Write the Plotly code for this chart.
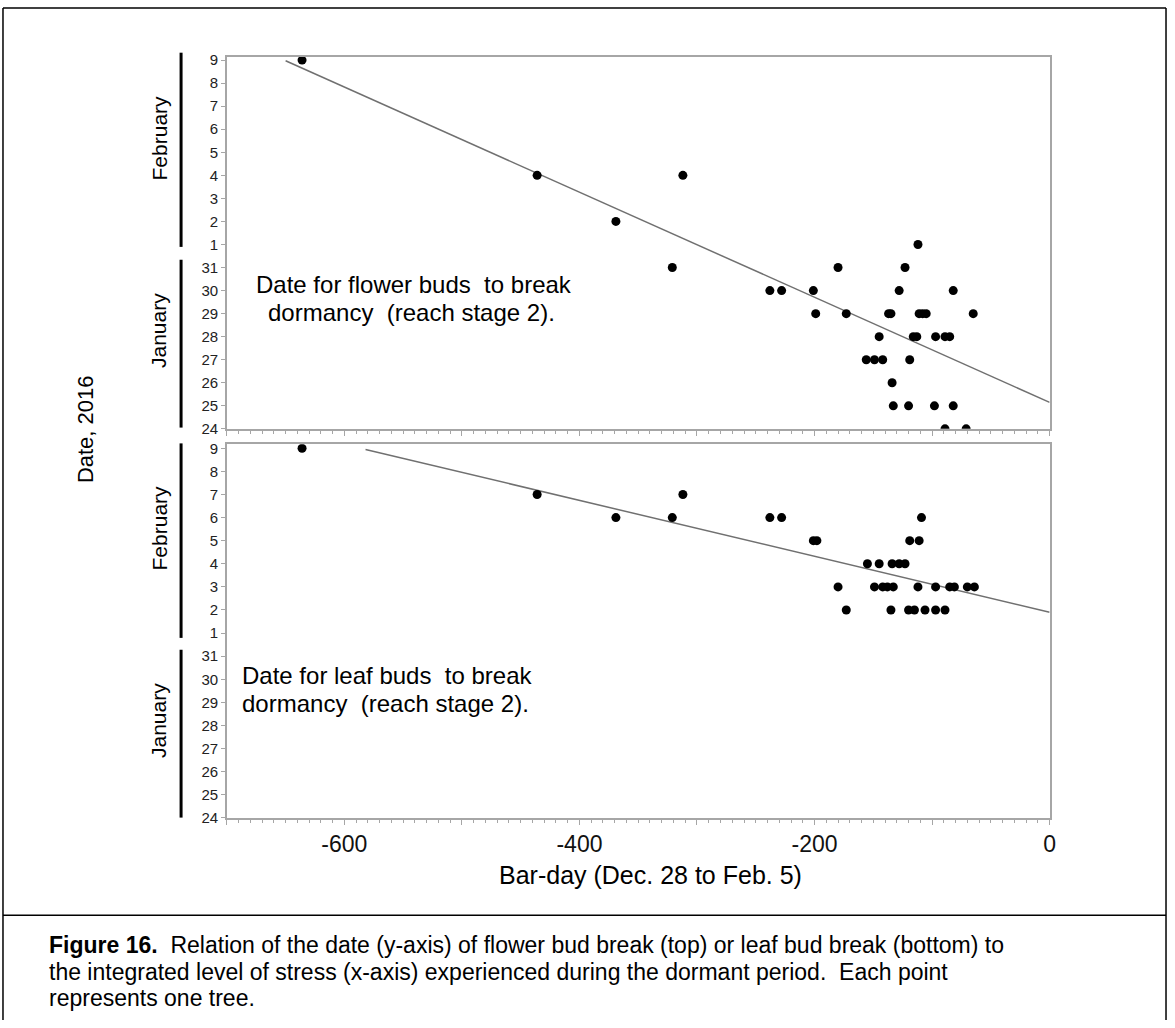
import plotly.graph_objects as go

# ---- data (x = bar-day, y = day number where Jan 24 = 24 ... Jan 31 = 31, Feb 1 = 32 ... Feb 9 = 40)
flower_x = [-636, -436, -312, -369, -112, -321, -180, -123,
            -238, -228, -201, -128, -82,
            -199, -173, -137, -135, -111, -108, -105, -65,
            -145, -116, -113, -97, -89, -85,
            -156, -149, -142, -119,
            -134,
            -133, -120, -98, -82,
            -89, -71]
flower_y = [40, 35, 35, 33, 32, 31, 31, 31,
            30, 30, 30, 30, 30,
            29, 29, 29, 29, 29, 29, 29, 29,
            28, 28, 28, 28, 28, 28,
            27, 27, 27, 27,
            26,
            25, 25, 25, 25,
            24, 24]

leaf_x = [-636, -436, -312, -369, -321, -238, -228, -109,
          -201, -198, -119, -111,
          -155, -145, -134, -128, -123,
          -180, -149, -142, -138, -133, -112, -97, -85, -81, -70, -64,
          -173, -135, -120, -115, -106, -97, -89]
leaf_y = [40, 38, 38, 37, 37, 37, 37, 37,
          36, 36, 36, 36,
          35, 35, 35, 35, 35,
          34, 34, 34, 34, 34, 34, 34, 34, 34, 34, 34,
          33, 33, 33, 33, 33, 33, 33]

flower_fit_x = [-650, 0]
flower_fit_y = [39.97, 25.15]
leaf_fit_x = [-582, 0]
leaf_fit_y = [39.95, 32.9]

y_tickvals = list(range(24, 41))
y_ticktext = ["24", "25", "26", "27", "28", "29", "30", "31",
              "1", "2", "3", "4", "5", "6", "7", "8", "9"]
x_tickvals = [-700, -600, -500, -400, -300, -200, -100, 0]
x_ticktext = ["", "-600", "", "-400", "", "-200", "", "0"]

caption_lines = [
    "<b>Figure 16.</b>  Relation of the date (y-axis) of flower bud break (top) or leaf bud break (bottom) to",
    "the integrated level of stress (x-axis) experienced during the dormant period.  Each point",
    "represents one tree.",
]

W, H = 1175, 1028
FONT = "Liberation Sans"

def px(x):
    return x / W

def py(y):
    return 1 - y / H

fig = go.Figure()

fig.add_trace(go.Scatter(x=flower_fit_x, y=flower_fit_y, mode="lines",
                         line=dict(color="#707070", width=1.5),
                         xaxis="x", yaxis="y", showlegend=False))
fig.add_trace(go.Scatter(x=flower_x, y=flower_y, mode="markers",
                         marker=dict(color="black", size=9),
                         xaxis="x", yaxis="y", showlegend=False))
fig.add_trace(go.Scatter(x=leaf_fit_x, y=leaf_fit_y, mode="lines",
                         line=dict(color="#707070", width=1.5),
                         xaxis="x2", yaxis="y2", showlegend=False))
fig.add_trace(go.Scatter(x=leaf_x, y=leaf_y, mode="markers",
                         marker=dict(color="black", size=9),
                         xaxis="x2", yaxis="y2", showlegend=False))

axis_common = dict(showline=True, linecolor="#a6a6a6", linewidth=1.5, mirror=True,
                   showgrid=False, zeroline=False)

xdom = [px(228), px(1055)]
xaxis_common = dict(axis_common, range=[-700, 0], tickmode="array",
                    tickvals=x_tickvals, ticks="outside", ticklen=5,
                    tickcolor="#a6a6a6",
                    minor=dict(dtick=10, ticks="outside", ticklen=3, tickcolor="#a6a6a6"))

fig.update_layout(
    width=W, height=H,
    margin=dict(l=0, r=0, t=0, b=0),
    paper_bgcolor="white", plot_bgcolor="white",
    font=dict(family=FONT, color="black"),
    xaxis=dict(xaxis_common, domain=xdom, anchor="y", ticktext=[""] * len(x_tickvals)),
    yaxis=dict(axis_common, domain=[py(429.3), py(52.3)], range=[24, 40.15],
               tickmode="array", tickvals=y_tickvals, ticktext=y_ticktext,
               ticks="outside", ticklen=4, tickcolor="#a6a6a6",
               tickfont=dict(size=15, color="#222222"), anchor="x"),
    xaxis2=dict(xaxis_common, domain=xdom, anchor="y2", ticktext=x_ticktext,
                tickfont=dict(size=23, color="#111111")),
    yaxis2=dict(axis_common, domain=[py(823.3), py(445)], range=[24, 40.17],
                tickmode="array", tickvals=y_tickvals, ticktext=y_ticktext,
                ticks="outside", ticklen=4, tickcolor="#a6a6a6",
                tickfont=dict(size=15, color="#222222"), anchor="x2"),
)

ann = []
# axis titles
ann.append(dict(x=px(654), y=py(881), xref="paper", yref="paper", text="Bar-day (Dec. 28 to Feb. 5)",
                showarrow=False, font=dict(size=25), xanchor="center", yanchor="middle"))
ann.append(dict(x=px(86), y=py(430), xref="paper", yref="paper", text="Date, 2016",
                showarrow=False, font=dict(size=22), textangle=-90, xanchor="center", yanchor="middle"))
# month labels
for yc, t in [(135, "February"), (330, "January"), (530, "February"), (725, "January")]:
    ann.append(dict(x=px(160), y=py(yc), xref="paper", yref="paper", text=t,
                    showarrow=False, font=dict(size=21), textangle=-90,
                    xanchor="center", yanchor="middle"))
# panel notes
for xc, yc, t in [(416, 283, "Date for flower buds  to break"), (414, 311, "dormancy  (reach stage 2).")]:
    ann.append(dict(x=px(xc), y=py(yc), xref="paper", yref="paper", text=t,
                    showarrow=False, font=dict(size=24), xanchor="center", yanchor="middle"))
for yc, t in [(679, "Date for leaf buds  to break"), (707, "dormancy  (reach stage 2).")]:
    ann.append(dict(x=px(241), y=py(yc), xref="paper", yref="paper", text=t,
                    showarrow=False, font=dict(size=24), xanchor="left", yanchor="middle"))
# caption
for yc, t in zip([952, 979, 1006], caption_lines):
    ann.append(dict(x=px(47), y=py(yc), xref="paper", yref="paper", text=t,
                    showarrow=False, font=dict(size=23), align="left",
                    xanchor="left", yanchor="middle"))
fig.update_layout(annotations=ann)

shapes = []
# month bars
for y0, y1 in [(48.3, 245), (258, 428), (444, 641), (653, 823)]:
    shapes.append(dict(type="line", xref="paper", yref="paper", x0=px(182), x1=px(182),
                       y0=py(y0), y1=py(y1), line=dict(color="black", width=3)))
# outer frame and caption separator
shapes.append(dict(type="line", xref="paper", yref="paper", x0=px(3), x1=px(1172), y0=py(3), y1=py(3),
                   line=dict(color="black", width=1.5)))
shapes.append(dict(type="line", xref="paper", yref="paper", x0=px(3), x1=px(3), y0=py(3), y1=py(1028),
                   line=dict(color="black", width=1.5)))
shapes.append(dict(type="line", xref="paper", yref="paper", x0=px(1172), x1=px(1172), y0=py(3), y1=py(1028),
                   line=dict(color="black", width=1.5)))
shapes.append(dict(type="line", xref="paper", yref="paper", x0=px(3), x1=px(1172), y0=py(922), y1=py(922),
                   line=dict(color="black", width=1.5)))
fig.update_layout(shapes=shapes)

fig.write_html("out.html")
